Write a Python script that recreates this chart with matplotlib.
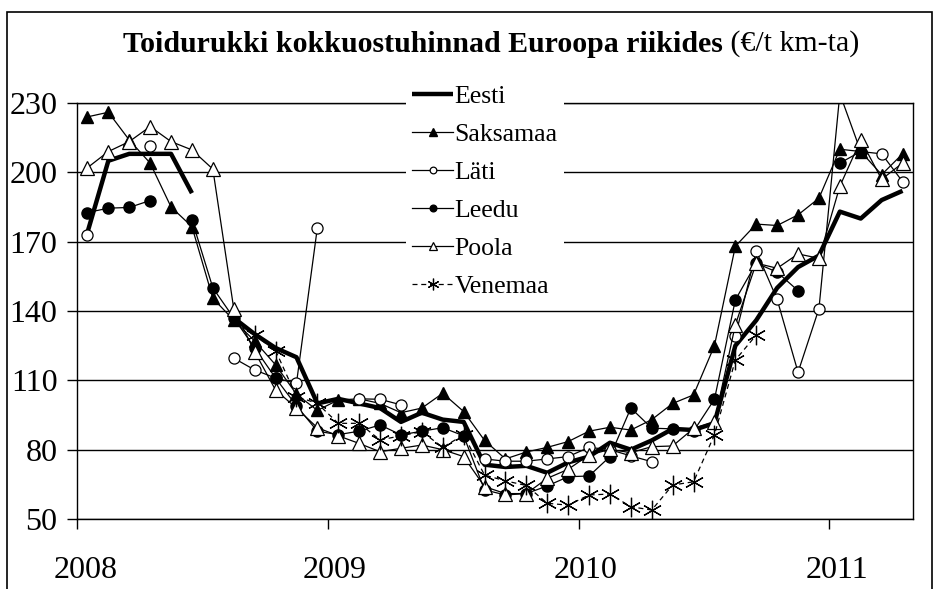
import numpy as np
import matplotlib.pyplot as plt
from matplotlib.patches import Rectangle

nan = np.nan

# monthly values, Jan 2008 .. Apr 2011
months = np.arange(40)
year_labels = ['2008', '2009', '2010', '2011']

eesti = [174, 205, 208, 208, 208, 191, nan, 137, 130, 124,
         120, 100, 102, 100, 98, 92, 96, 93, 92, 73.5,
         72.5, 73, 70, 74.5, 77, 83, 80, 84, 89, 88.5,
         91.5, 125, 136, 150, 159, 164, 183, 180, 188, 192]
saksamaa = [224, 226, 214, 204, 185, 176.5, 145.5, 136, 127, 116.7,
            104, 97, 101.5, 102, 100, 96, 98, 104.4, 96.5, 84,
            76, 79, 81, 83.5, 88, 89.7, 88.5, 93, 100, 103.7,
            125, 168, 177.6, 177, 181.6, 188.8, 210, 209, 199, 208]
lati = [173, nan, nan, 211.5, nan, nan, nan, 119.6, 114.5, 111,
        108.7, 176, nan, 102, 101.8, 99.4, nan, nan, nan, 76,
        75, 75, 76, 77, 81, 80, 77.3, 74.8, nan, nan,
        nan, 129, 166, 145, 113.5, 141, 234, 209, 208, 196]
leedu = [182.6, 184.5, 184.8, 187.8, nan, 179.4, 150, 137, 124, 111,
         99, 88, 86.5, 88, 90.7, 86.4, 88, 89.5, 86, 62.6,
         60.4, 61, 64.3, 68.3, 68.6, 77, 98, 89.3, 89, 88,
         101.8, 144.8, 160.7, 156.8, 148.8, nan, 204, 209, nan, nan]
poola = [202, 209, 213.3, 219.8, 213.3, 209.7, 201.4, 141, 122.4, 105.8,
         98, 89.5, 86, 82.7, 79.1, 80.6, 82, 80, 77, 64,
         61, 61, 67.6, 71.5, 77.7, 80.1, 78.7, 81.3, 81.6, 89.2,
         92, 134, 160.7, 158.5, 164.7, 162.8, 194, 214, 197, 204]
venemaa = [nan, nan, nan, nan, nan, nan, nan, nan, 129.6, 122.9,
           103, 100, 91.4, 91.4, 84.2, 86, 87.8, 81, 86.4, 69,
           66.5, 64.5, 56.8, 56, 60.4, 60.8, 55.3, 53.9, 64.7, 66.1,
           86.4, 118.8, 129.6, nan, nan, nan, nan, nan, nan, nan]

plt.rcParams['font.family'] = ['Liberation Serif', 'DejaVu Serif']

W, H = 939, 589
fig = plt.figure(figsize=(W / 100, H / 100), dpi=100)
ax = fig.add_axes([77 / W, 1 - 519 / H, (913 - 77) / W, (519 - 103) / H])

ax.plot(months, eesti, color='black', lw=3.2, label='Eesti', zorder=3,
        solid_capstyle='butt')
ax.plot(months, saksamaa, color='black', lw=0.9, marker='^', ms=8.5,
        mfc='black', mec='black', label='Saksamaa', zorder=4)
ax.plot(months, lati, color='black', lw=0.9, marker='o', ms=8,
        mfc='white', mec='black', mew=0.9, label='Läti', zorder=5)
ax.plot(months, leedu, color='black', lw=0.9, marker='o', ms=8,
        mfc='black', mec='black', label='Leedu', zorder=6)
ax.plot(months, poola, color='black', lw=0.9, marker='^', ms=9.5,
        mfc='white', mec='black', mew=0.9, label='Poola', zorder=7)
ax.plot(months, venemaa, color='black', lw=0.9, ls=(0, (4, 3)),
        marker=(6, 2, 0), ms=14, mew=0.9, mec='black', label='Venemaa',
        zorder=8)

ax.set_xlim(-0.5, 39.5)
ax.set_ylim(50, 230)
ax.set_yticks(np.arange(50, 231, 30))
ax.yaxis.grid(True, color='black', lw=1)
ax.set_axisbelow(True)
ax.tick_params(axis='y', direction='out', length=7, width=1, pad=7,
               labelsize=23)

ax.set_xticks([-0.5, 11.5, 23.5, 35.5])
ax.set_xticklabels([])
ax.set_xticks([-0.1, 11.85, 23.85, 35.85], minor=True)
ax.set_xticklabels(year_labels, minor=True)
ax.tick_params(axis='x', which='major', direction='out', length=7, width=1)
ax.tick_params(axis='x', which='minor', length=0, pad=27, labelsize=23)

for s in ax.spines.values():
    s.set_color('black')
    s.set_linewidth(1)

leg = fig.legend(loc='upper left', bbox_to_anchor=(393 / W, 1 - 66 / H),
                 bbox_transform=fig.transFigure, frameon=True,
                 fontsize=18.5, labelspacing=0.58, handlelength=1.6,
                 handletextpad=0.05, borderpad=0.25, markerscale=0.6,
                 fancybox=False)
leg.get_frame().set_facecolor('white')
leg.get_frame().set_edgecolor('none')
leg.get_frame().set_alpha(1)
leg.set_zorder(20)

# title: bold part + normal part, centred together
bold = fig.text(0, 1 - 44 / H, 'Toidurukki kokkuostuhinnad Euroopa riikides',
                fontsize=21.5, fontweight='bold', va='center', ha='left')
norm = fig.text(0, 1 - 44 / H, ' (€/t km-ta)', fontsize=21.5, va='center',
                ha='left')
r = fig.canvas.get_renderer()
wb = bold.get_window_extent(r).width
wn = norm.get_window_extent(r).width
x0 = (491 - (wb + wn) / 2)
bold.set_x(x0 / W)
norm.set_x((x0 + wb) / W)

fig.patches.append(Rectangle((7 / W, -0.05), (932 - 7) / W, 1.05 - 12 / H,
                             transform=fig.transFigure, fill=False,
                             edgecolor='black', lw=1.2))

fig.savefig('out.png', dpi=100)
